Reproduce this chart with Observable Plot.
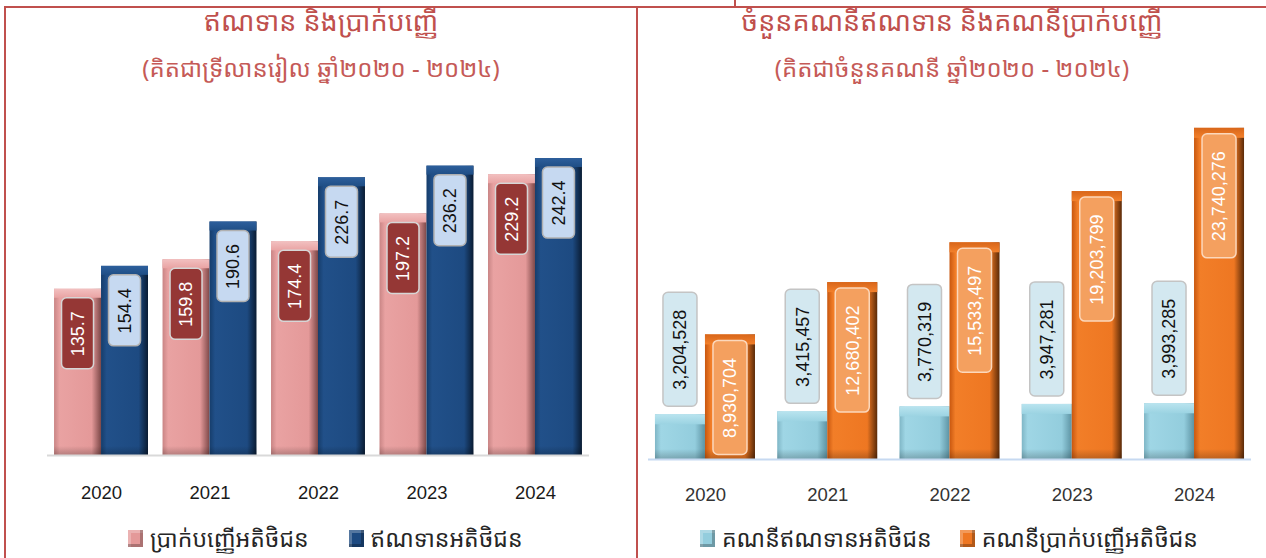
<!DOCTYPE html>
<html>
<head>
<meta charset="utf-8">
<script src="https://cdn.jsdelivr.net/npm/d3@7"></script>
<script src="https://cdn.jsdelivr.net/npm/@observablehq/plot@0.6"></script>
<style>
  html, body { margin: 0; padding: 0; background: #fff; }
  #wrap { position: relative; width: 1266px; height: 558px; overflow: hidden; font-family: "Noto Sans Khmer", "Khmer OS Siemreap", "Noto Sans", "DejaVu Sans", sans-serif; }
  .line { position: absolute; background: #c0504d; }
  .title { position: absolute; text-align: center; color: #c0504d; white-space: nowrap; }
  .t1 { font-size: 27px; top: 3px; height: 36px; line-height: 36px; }
  .t2 { font-size: 24px; top: 51px; height: 34px; line-height: 34px; color: #c55a57; }
  .chart { position: absolute; top: 100px; }
  .legend { position: absolute; top: 522px; height: 32px; display: flex; align-items: center; white-space: nowrap; font-size: 23px; color: #262626; }
  .legend .item { display: flex; align-items: center; }
  .legend .sw { width: 15px; height: 17px; margin-right: 7px; box-shadow: inset -3px -3px 0 rgba(0,0,0,0.25), inset 3px 3px 0 rgba(255,255,255,0.25); }
</style>
</head>
<body>
<svg width="0" height="0" style="position:absolute">
  <defs>
    <linearGradient id="gPink" x1="0" x2="1" y1="0" y2="0">
      <stop offset="0" stop-color="#c98585"/><stop offset="0.12" stop-color="#e9a2a2"/>
      <stop offset="0.8" stop-color="#e49999"/><stop offset="1" stop-color="#7d4848"/>
    </linearGradient>
    <linearGradient id="gBlue" x1="0" x2="1" y1="0" y2="0">
      <stop offset="0" stop-color="#163d6b"/><stop offset="0.12" stop-color="#215089"/>
      <stop offset="0.8" stop-color="#1d4a81"/><stop offset="1" stop-color="#0a1c33"/>
    </linearGradient>
    <linearGradient id="gLight" x1="0" x2="1" y1="0" y2="0">
      <stop offset="0" stop-color="#7fb6c6"/><stop offset="0.12" stop-color="#9fd6e5"/>
      <stop offset="0.8" stop-color="#93cddd"/><stop offset="1" stop-color="#5d93a3"/>
    </linearGradient>
    <linearGradient id="gOrange" x1="0" x2="1" y1="0" y2="0">
      <stop offset="0" stop-color="#c8570f"/><stop offset="0.12" stop-color="#f27e28"/>
      <stop offset="0.8" stop-color="#ee7722"/><stop offset="1" stop-color="#5a2a08"/>
    </linearGradient>
    <linearGradient id="tPink" x1="0" x2="0" y1="0" y2="1">
      <stop offset="0" stop-color="#f2c0c0"/><stop offset="1" stop-color="#e9a3a3"/>
    </linearGradient>
    <linearGradient id="tBlue" x1="0" x2="0" y1="0" y2="1">
      <stop offset="0" stop-color="#2d5f9c"/><stop offset="1" stop-color="#1f4e85"/>
    </linearGradient>
    <linearGradient id="tLight" x1="0" x2="0" y1="0" y2="1">
      <stop offset="0" stop-color="#b9e4ef"/><stop offset="1" stop-color="#9bd3e2"/>
    </linearGradient>
    <linearGradient id="tOrange" x1="0" x2="0" y1="0" y2="1">
      <stop offset="0" stop-color="#d8661a"/><stop offset="1" stop-color="#f2802b"/>
    </linearGradient>
    <linearGradient id="bDark" x1="0" x2="0" y1="0" y2="1">
      <stop offset="0" stop-color="rgba(0,0,0,0)"/><stop offset="1" stop-color="rgba(0,0,0,0.22)"/>
    </linearGradient>
  </defs>
</svg>
<div id="wrap">
  <div class="line" style="left:4px; top:6px; width:1262px; height:2px;"></div>
  <div class="line" style="left:4px; top:6px; width:2px; height:552px;"></div>
  <div class="line" style="left:636px; top:6px; width:2px; height:552px;"></div>
  <div class="line" style="left:734px; top:0px; width:2px; height:6px;"></div>

  <div class="title t1" style="left:6px; width:630px;" id="lt1"></div>
  <div class="title t2" style="left:6px; width:630px;" id="lt2"></div>
  <div class="title t1" style="left:638px; width:628px;" id="rt1"></div>
  <div class="title t2" style="left:638px; width:628px;" id="rt2"></div>

  <div class="chart" id="left" style="left:0px;"></div>
  <div class="chart" id="right" style="left:637px;"></div>

  <div class="legend" id="lleg" style="left:128px;"></div>
  <div class="legend" id="rleg" style="left:700px;"></div>
</div>
<script>
// ---------- data ----------
const years = ["2020", "2021", "2022", "2023", "2024"];
// left: trillion riel
const deposits = [135.7, 159.8, 174.4, 197.2, 229.2];
const loans = [154.4, 190.6, 226.7, 236.2, 242.4];
// right: number of accounts
const loanAccounts = [3204528, 3415457, 3770319, 3947281, 3993285];
const depositAccounts = [8930704, 12680402, 15533497, 19203799, 23740276];

const leftTitle = "ឥណទាន និងប្រាក់បញ្ញើ";
const leftSubtitle = "(គិតជាទ្រីលានរៀល ឆ្នាំ២០២០ - ២០២៤)";
const rightTitle = "ចំនួនគណនីឥណទាន និងគណនីប្រាក់បញ្ញើ";
const rightSubtitle = "(គិតជាចំនួនគណនី ឆ្នាំ២០២០ - ២០២៤)";
const leftSeriesNames = ["ប្រាក់បញ្ញើអតិថិជន", "ឥណទានអតិថិជន"];
const rightSeriesNames = ["គណនីឥណទានអតិថិជន", "គណនីប្រាក់បញ្ញើអតិថិជន"];

document.getElementById("lt1").textContent = leftTitle;
document.getElementById("lt2").textContent = leftSubtitle;
document.getElementById("rt1").textContent = rightTitle;
document.getElementById("rt2").textContent = rightSubtitle;

const numFont = "'Liberation Sans', Arial, Helvetica, sans-serif";
const FS = 18;

function textWidth(s) {
  let w = 0;
  for (const c of s) w += (c === "," || c === ".") ? 0.278 : 0.556;
  return w * FS;
}

// build a grouped bar chart with two series in each band
function groupedChart(cfg) {
  const {width, height, marginLeft, marginRight, marginTop, marginBottom, yMax,
         paddingInner, paddingOuter, A, B, bevel, baseColor, axisPad, axisColor} = cfg;
  const xs = Plot.scale({x: {type: "band", domain: years, range: [marginLeft, width - marginRight],
                             paddingInner, paddingOuter, round: false}});
  const bw = xs.bandwidth;
  const half = bw / 2;
  const marks = [];
  [A, B].forEach((s, k) => {
    const data = years.map((year, i) => ({year, value: s.values[i], label: s.format(s.values[i])}));
    const side = k === 0 ? {insetLeft: 0, insetRight: half} : {insetLeft: half, insetRight: 0};
    marks.push(Plot.barY(data, {x: "year", y: "value", fill: s.grad, ...side}));
    marks.push(Plot.barY(data, {x: "year", y1: "value", y2: "value", insetTop: 0, insetBottom: -bevel, fill: s.top, ...side}));
    marks.push(Plot.barY(data, {x: "year", y1: 0, y2: 0, insetTop: -bevel, insetBottom: 0, fill: "url(#bDark)", ...side}));
    // labels grouped by text length so each box fits its text
    const groups = d3.group(data, d => d.label.length);
    for (const [, g] of groups) {
      const boxH = Math.round(textWidth(g[0].label) + 2 * s.pad);
      const boxW = s.boxW;
      const m = (half - boxW) / 2;
      const bi = k === 0 ? {insetLeft: m, insetRight: half + m} : {insetLeft: half + m, insetRight: m};
      const vi = s.above ? {insetTop: -(s.gap + boxH), insetBottom: s.gap} : {insetTop: s.gap, insetBottom: -(s.gap + boxH)};
      marks.push(Plot.barY(g, {x: "year", y1: "value", y2: "value", ...bi, ...vi, rx: 5,
        fill: s.boxFill, stroke: s.boxStroke, strokeWidth: 1.5}));
      marks.push(Plot.text(g, {x: "year", y: "value", text: "label", rotate: -90,
        dx: (k === 0 ? -1 : 1) * half / 2,
        dy: s.above ? -(s.gap + boxH / 2) : (s.gap + boxH / 2),
        fill: s.textFill, fontSize: FS, fontFamily: numFont}));
    }
  });
  marks.push(Plot.ruleY([0], {stroke: baseColor, strokeWidth: 2}));
  marks.push(Plot.axisX({tickSize: 0, tickPadding: axisPad, fontSize: 18.5, fontFamily: numFont, label: null}));
  return Plot.plot({
    width, height, marginLeft, marginRight, marginTop, marginBottom,
    style: {color: axisColor, background: "transparent", overflow: "visible"},
    x: {type: "band", domain: years, paddingInner, paddingOuter, round: false},
    y: {domain: [0, yMax], axis: null},
    marks
  });
}

const left = groupedChart({
  width: 636, height: 410, marginLeft: 47, marginRight: 47, marginBottom: 55,
  marginTop: 410 - 55 - 260 * 1.225, yMax: 260,
  paddingInner: 0.134, paddingOuter: 0.065, bevel: 9, baseColor: "#d9d9d9", axisPad: 30, axisColor: "#1a1a1a",
  A: {values: deposits, format: v => v.toFixed(1), grad: "url(#gPink)", top: "url(#tPink)",
      boxFill: "#953735", boxStroke: "#d6d6d6", textFill: "#ffffff", pad: 13, boxW: 32, gap: 9, above: false},
  B: {values: loans, format: v => v.toFixed(1), grad: "url(#gBlue)", top: "url(#tBlue)",
      boxFill: "#c6d9f1", boxStroke: "#b0b0b0", textFill: "#111111", pad: 13, boxW: 32, gap: 9, above: false}
});
document.getElementById("left").appendChild(left);

const right = groupedChart({
  width: 629, height: 410, marginLeft: 11, marginRight: 15, marginBottom: 51,
  marginTop: 410 - 51 - 25 * 13.95, yMax: 25e6,
  paddingInner: 0.182, paddingOuter: 0.057, bevel: 10, baseColor: "#c6d9f1", axisPad: 28, axisColor: "#333333",
  A: {values: loanAccounts, format: v => v.toLocaleString("en-US"), grad: "url(#gLight)", top: "url(#tLight)",
      boxFill: "#d3e8f0", boxStroke: "#c4c4c4", textFill: "#111111", pad: 17, boxW: 34, gap: 8, above: true},
  B: {values: depositAccounts, format: v => v.toLocaleString("en-US"), grad: "url(#gOrange)", top: "url(#tOrange)",
      boxFill: "#f4a05f", boxStroke: "#fcd8bc", textFill: "#ffffff", pad: 17, boxW: 34, gap: 6, above: false}
});
document.getElementById("right").appendChild(right);

function legend(el, names, colors, gap) {
  const root = document.getElementById(el);
  names.forEach((n, i) => {
    const it = document.createElement("div");
    it.className = "item";
    if (i > 0) it.style.marginLeft = gap + "px";
    const sw = document.createElement("div");
    sw.className = "sw";
    sw.style.background = colors[i];
    const t = document.createElement("span");
    t.textContent = n;
    it.appendChild(sw); it.appendChild(t);
    root.appendChild(it);
  });
}
legend("lleg", leftSeriesNames, ["#e49999", "#1d4a81"], 40);
legend("rleg", rightSeriesNames, ["#93cddd", "#ee7722"], 28);
</script>
</body>
</html>
